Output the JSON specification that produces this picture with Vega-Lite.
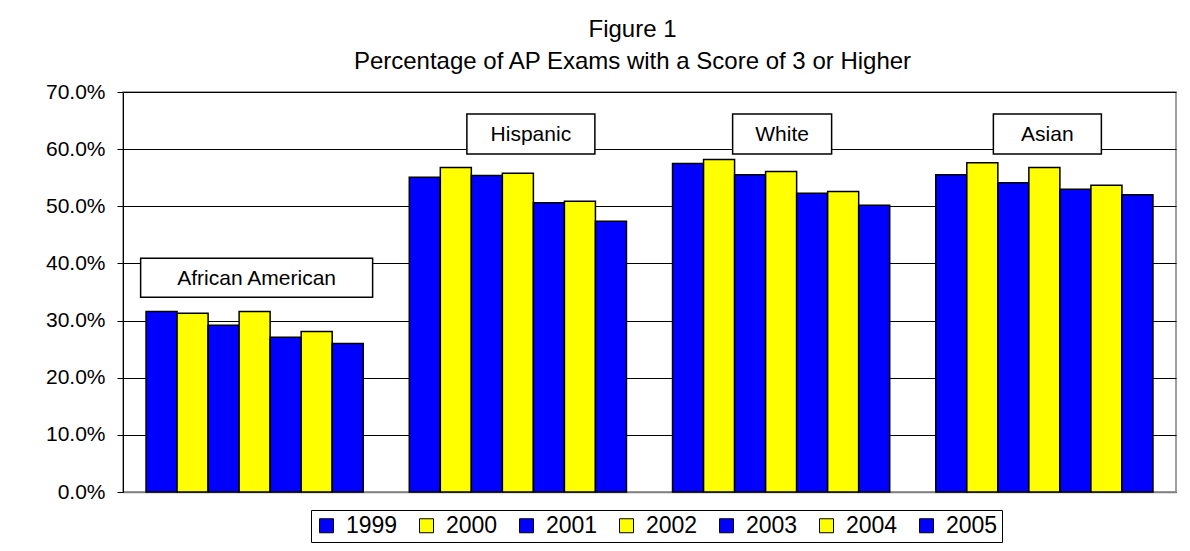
{
  "$schema": "https://vega.github.io/schema/vega-lite/v6.json",
  "autosize": "none",
  "width": 1053,
  "height": 400,
  "padding": {"left": 123, "top": 92, "right": 14, "bottom": 59},
  "background": "white",
  "config": {
    "font": "Liberation Sans",
    "view": {"stroke": "#808080", "strokeWidth": 1.5}
  },
  "title": {
    "text": "Figure 1",
    "subtitle": "Percentage of AP Exams with a Score of 3 or Higher",
    "anchor": "middle",
    "dx": -17,
    "fontSize": 24,
    "fontWeight": "normal",
    "color": "black",
    "subtitleFontSize": 24,
    "subtitleColor": "black",
    "subtitlePadding": 8,
    "offset": 7
  },
  "datasets": {
    "bars": [
      {"group": "African American", "year": "1999", "value": 0.316},
      {"group": "African American", "year": "2000", "value": 0.313},
      {"group": "African American", "year": "2001", "value": 0.292},
      {"group": "African American", "year": "2002", "value": 0.316},
      {"group": "African American", "year": "2003", "value": 0.271},
      {"group": "African American", "year": "2004", "value": 0.281},
      {"group": "African American", "year": "2005", "value": 0.260},
      {"group": "Hispanic", "year": "1999", "value": 0.551},
      {"group": "Hispanic", "year": "2000", "value": 0.568},
      {"group": "Hispanic", "year": "2001", "value": 0.554},
      {"group": "Hispanic", "year": "2002", "value": 0.558},
      {"group": "Hispanic", "year": "2003", "value": 0.506},
      {"group": "Hispanic", "year": "2004", "value": 0.509},
      {"group": "Hispanic", "year": "2005", "value": 0.474},
      {"group": "White", "year": "1999", "value": 0.575},
      {"group": "White", "year": "2000", "value": 0.582},
      {"group": "White", "year": "2001", "value": 0.555},
      {"group": "White", "year": "2002", "value": 0.561},
      {"group": "White", "year": "2003", "value": 0.523},
      {"group": "White", "year": "2004", "value": 0.526},
      {"group": "White", "year": "2005", "value": 0.502},
      {"group": "Asian", "year": "1999", "value": 0.555},
      {"group": "Asian", "year": "2000", "value": 0.576},
      {"group": "Asian", "year": "2001", "value": 0.541},
      {"group": "Asian", "year": "2002", "value": 0.568},
      {"group": "Asian", "year": "2003", "value": 0.530},
      {"group": "Asian", "year": "2004", "value": 0.537},
      {"group": "Asian", "year": "2005", "value": 0.520}
    ],
    "labels": [
      {"group": "African American", "label": "African American", "pos": 0.375},
      {"group": "Hispanic", "label": "Hispanic", "pos": 0.6265},
      {"group": "White", "label": "White", "pos": 0.6265},
      {"group": "Asian", "label": "Asian", "pos": 0.6265}
    ]
  },
  "layer": [
    {
      "data": {"name": "bars"},
      "mark": {"type": "bar", "stroke": "black", "strokeWidth": 1.5},
      "encoding": {
        "x": {
          "field": "group", "type": "nominal",
          "sort": ["African American", "Hispanic", "White", "Asian"],
          "scale": {"domain": ["African American", "Hispanic", "White", "Asian"], "paddingInner": 0.175, "paddingOuter": 0.0875},
          "axis": {"title": null, "labels": false, "ticks": false, "domainColor": "#808080", "domainWidth": 1.5}
        },
        "xOffset": {"field": "year", "type": "nominal", "scale": {"paddingInner": 0, "paddingOuter": 0}},
        "y": {
          "field": "value", "type": "quantitative",
          "scale": {"domain": [0, 0.7], "nice": false},
          "axis": {
            "title": null,
            "values": [0, 0.1, 0.2, 0.3, 0.4, 0.5, 0.6, 0.7],
            "format": ".1%",
            "labelFontSize": 21,
            "labelColor": "black",
            "labelPadding": 12,
            "tickColor": "black",
            "tickSize": 6,
            "domainColor": "black",
            "domainWidth": 1,
            "gridColor": "black",
            "gridWidth": 1
          }
        },
        "color": {
          "field": "year", "type": "nominal",
          "scale": {"domain": ["1999", "2000", "2001", "2002", "2003", "2004", "2005"], "range": ["#0000FF", "#FFFF00", "#0000FF", "#FFFF00", "#0000FF", "#FFFF00", "#0000FF"]},
          "legend": {
            "title": null,
            "orient": "none",
            "legendX": 188,
            "legendY": 418,
            "direction": "horizontal",
            "strokeColor": "black",
            "fillColor": "white",
            "padding": 4,
            "symbolType": "square",
            "symbolSize": 196,
            "symbolStrokeColor": "black",
            "symbolStrokeWidth": 1,
            "labelFontSize": 23,
            "labelColor": "black",
            "labelOffset": 8,
            "columnPadding": 17
          }
        }
      }
    },
    {
      "data": {"name": "labels"},
      "transform": [{"filter": "datum.group === 'African American'"}],
      "layer": [
        {"mark": {"type": "rect", "width": 232, "height": 39, "fill": "white", "stroke": "black", "strokeWidth": 1.5, "xOffset": 2}},
        {"mark": {"type": "text", "fontSize": 21, "color": "black", "baseline": "middle", "align": "center", "dy": 1, "xOffset": 2}, "encoding": {"text": {"field": "label"}}}
      ],
      "encoding": {"x": {"field": "group", "type": "nominal"}, "y": {"field": "pos", "type": "quantitative"}}
    },
    {
      "data": {"name": "labels"},
      "transform": [{"filter": "datum.group === 'Hispanic'"}],
      "layer": [
        {"mark": {"type": "rect", "width": 128, "height": 40, "fill": "white", "stroke": "black", "strokeWidth": 1.5, "xOffset": 13}},
        {"mark": {"type": "text", "fontSize": 21, "color": "black", "baseline": "middle", "align": "center", "dy": 1, "xOffset": 13}, "encoding": {"text": {"field": "label"}}}
      ],
      "encoding": {"x": {"field": "group", "type": "nominal"}, "y": {"field": "pos", "type": "quantitative"}}
    },
    {
      "data": {"name": "labels"},
      "transform": [{"filter": "datum.group === 'White'"}],
      "layer": [
        {"mark": {"type": "rect", "width": 99, "height": 40, "fill": "white", "stroke": "black", "strokeWidth": 1.5, "xOffset": 1}},
        {"mark": {"type": "text", "fontSize": 21, "color": "black", "baseline": "middle", "align": "center", "dy": 1, "xOffset": 1}, "encoding": {"text": {"field": "label"}}}
      ],
      "encoding": {"x": {"field": "group", "type": "nominal"}, "y": {"field": "pos", "type": "quantitative"}}
    },
    {
      "data": {"name": "labels"},
      "transform": [{"filter": "datum.group === 'Asian'"}],
      "layer": [
        {"mark": {"type": "rect", "width": 108, "height": 40, "fill": "white", "stroke": "black", "strokeWidth": 1.5, "xOffset": 3}},
        {"mark": {"type": "text", "fontSize": 21, "color": "black", "baseline": "middle", "align": "center", "dy": 1, "xOffset": 3}, "encoding": {"text": {"field": "label"}}}
      ],
      "encoding": {"x": {"field": "group", "type": "nominal"}, "y": {"field": "pos", "type": "quantitative"}}
    }
  ]
}
